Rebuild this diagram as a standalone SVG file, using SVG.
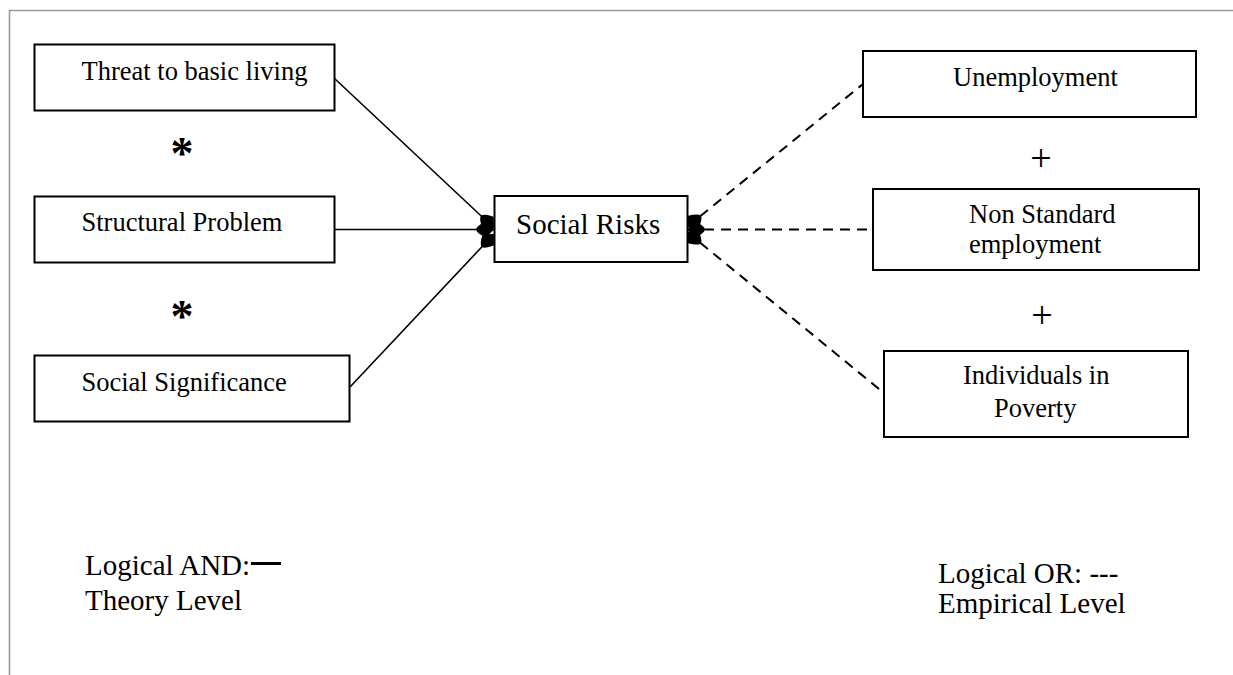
<svg xmlns="http://www.w3.org/2000/svg" width="1233" height="675" viewBox="0 0 1233 675">
  <style>
    .box { fill: #ffffff; stroke: #000000; stroke-width: 2; }
    .lbl { font-family: "Liberation Serif", "Times New Roman", serif; font-size: 26.5px; fill: #000000; }
    .big { font-size: 29px; }
    .leg { font-family: "Liberation Serif", "Times New Roman", serif; font-size: 29px; fill: #000000; }
    .sym { font-family: "Liberation Serif", "Times New Roman", serif; fill: #000000; text-anchor: middle; }
    .solid { stroke: #000000; stroke-width: 1.6; fill: none; }
    .dash { stroke: #000000; stroke-width: 2; fill: none; stroke-dasharray: 10 7; }
  </style>
  <defs>
    <marker id="diamEnd" markerUnits="userSpaceOnUse" markerWidth="26" markerHeight="22" viewBox="-22 -11 26 22" refX="0" refY="0" orient="auto">
      <path d="M0,0 L-8,-8 Q-17,-4 -18,0 Q-17,4 -8,8 Z" fill="#000000"/>
    </marker>
    <marker id="diamStart" markerUnits="userSpaceOnUse" markerWidth="26" markerHeight="22" viewBox="-22 -11 26 22" refX="0" refY="0" orient="auto-start-reverse">
      <path d="M0,0 L-8,-8 Q-17,-4 -18,0 Q-17,4 -8,8 Z" fill="#000000"/>
    </marker>
  </defs>

  <rect width="1233" height="675" fill="#ffffff"/>
  <g id="frame">
    <path d="M9.5,675 L9.5,10.5 L1233,10.5" fill="none" stroke="#9a9a9a" stroke-width="1.6"/>
  </g>

  <g id="connectors">
    <line class="solid" x1="334" y1="78" x2="494" y2="228" marker-end="url(#diamEnd)"/>
    <line class="solid" x1="334" y1="229.5" x2="494" y2="229.5" marker-end="url(#diamEnd)"/>
    <line class="solid" x1="350" y1="387" x2="494" y2="234" marker-end="url(#diamEnd)"/>
    <line class="dash" x1="687" y1="227" x2="863" y2="84" marker-start="url(#diamStart)"/>
    <line class="dash" x1="687" y1="229.5" x2="873" y2="229.5" marker-start="url(#diamStart)"/>
    <line class="dash" x1="687" y1="232" x2="884" y2="393" marker-start="url(#diamStart)"/>
  </g>

  <g id="threat">
    <rect class="box" x="34.5" y="44.5" width="300" height="66"/>
    <text class="lbl" x="81.5" y="80">Threat to basic living</text>
  </g>
  <g id="structural">
    <rect class="box" x="34.5" y="196.5" width="300" height="66"/>
    <text class="lbl" x="81.5" y="231">Structural Problem</text>
  </g>
  <g id="significance">
    <rect class="box" x="34.5" y="355.5" width="315" height="66"/>
    <text class="lbl" x="81.5" y="391">Social Significance</text>
  </g>
  <g id="social-risks">
    <rect class="box" x="494.5" y="196" width="193" height="66"/>
    <text class="lbl big" x="516" y="234">Social Risks</text>
  </g>
  <g id="unemployment">
    <rect class="box" x="863" y="51" width="333" height="66"/>
    <text class="lbl" x="953" y="86">Unemployment</text>
  </g>
  <g id="nonstandard">
    <rect class="box" x="873" y="189" width="326" height="81"/>
    <text class="lbl" x="969" y="223">Non Standard</text>
    <text class="lbl" x="969" y="253">employment</text>
  </g>
  <g id="poverty">
    <rect class="box" x="884" y="351" width="304" height="86"/>
    <text class="lbl" x="963" y="384">Individuals in</text>
    <text class="lbl" x="994" y="417">Poverty</text>
  </g>

  <g id="operators">
    <text class="sym" x="182" y="169" font-size="46" font-weight="bold">*</text>
    <text class="sym" x="182" y="332" font-size="46" font-weight="bold">*</text>
    <text class="sym" x="1041" y="171" font-size="38">+</text>
    <text class="sym" x="1042" y="328" font-size="38">+</text>
  </g>

  <g id="legend-and">
    <text class="leg" x="85" y="575">Logical AND:</text>
    <line x1="251" y1="563.5" x2="281" y2="563.5" stroke="#000000" stroke-width="3"/>
    <text class="leg" x="85" y="610">Theory Level</text>
  </g>
  <g id="legend-or">
    <text class="leg" x="938" y="583">Logical OR: ---</text>
    <text class="leg" x="938" y="613">Empirical Level</text>
  </g>
</svg>
